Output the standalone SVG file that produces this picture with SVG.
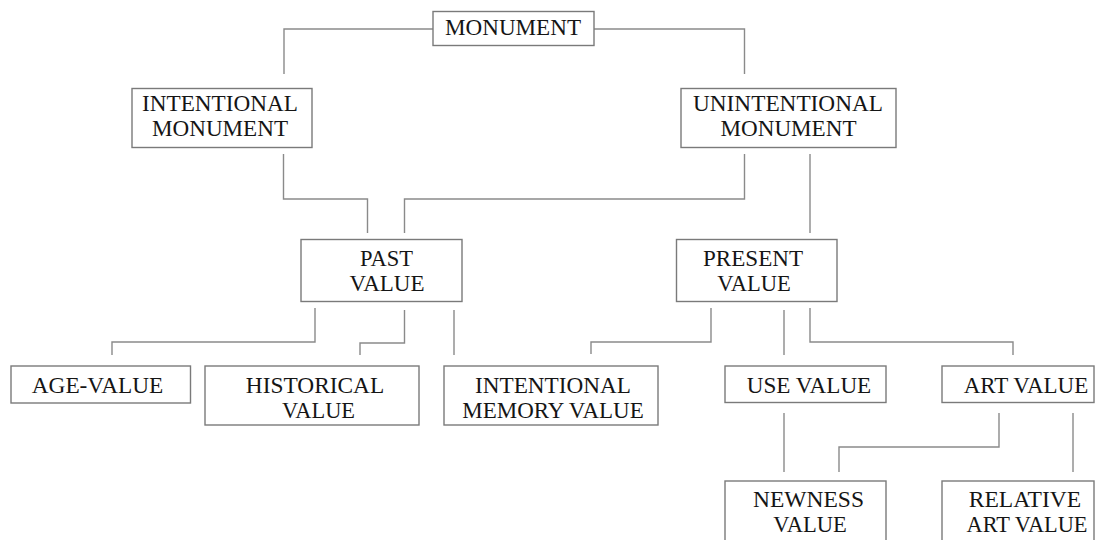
<svg xmlns="http://www.w3.org/2000/svg" width="1096" height="540" viewBox="0 0 1096 540">
<style>
.box{fill:#fff;stroke:#7a7a7a;stroke-width:1.4}
.t{font-family:"Liberation Serif","Times New Roman",serif;font-size:23.5px;fill:#151515;text-anchor:middle}
.c{fill:none;stroke:#8a8a8a;stroke-width:1.4}
</style>
<rect width="1096" height="540" fill="#fff"/>
<g id="connectors" class="c">
<path d="M433,29 H284 V74"/>
<path d="M594,29 H744.5 V74"/>
<path d="M283.5,154 V199 H367.5 V233"/>
<path d="M744.5,154 V199 H404.5 V233"/>
<path d="M810,154 V233"/>
<path d="M315,308 V342 H112 V355"/>
<path d="M404.5,310 V343 H360 V355"/>
<path d="M454,310 V355"/>
<path d="M711,308 V342 H591 V354"/>
<path d="M784,310 V355"/>
<path d="M810,308 V342 H1013 V355"/>
<path d="M784,413 V472"/>
<path d="M999,413 V447 H839 V472"/>
<path d="M1073,413 V472"/>
</g>
<g id="monument"><rect class="box" x="433" y="11.5" width="161" height="34"/><text class="t" x="513" y="35" textLength="136" lengthAdjust="spacingAndGlyphs">MONUMENT</text></g>
<g id="intentional-monument"><rect class="box" x="132" y="88.5" width="180" height="59"/><text class="t" x="220" y="110.5" textLength="156" lengthAdjust="spacingAndGlyphs">INTENTIONAL</text><text class="t" x="220" y="136" textLength="136" lengthAdjust="spacingAndGlyphs">MONUMENT</text></g>
<g id="unintentional-monument"><rect class="box" x="681" y="88.5" width="215" height="59"/><text class="t" x="788" y="110.5" textLength="190" lengthAdjust="spacingAndGlyphs">UNINTENTIONAL</text><text class="t" x="788.5" y="136" textLength="136" lengthAdjust="spacingAndGlyphs">MONUMENT</text></g>
<g id="past-value"><rect class="box" x="301" y="239.5" width="161" height="62"/><text class="t" x="386.5" y="265.5" textLength="53" lengthAdjust="spacingAndGlyphs">PAST</text><text class="t" x="387" y="291" textLength="75" lengthAdjust="spacingAndGlyphs">VALUE</text></g>
<g id="present-value"><rect class="box" x="676.5" y="239.5" width="160.5" height="62"/><text class="t" x="753" y="265.5" textLength="100" lengthAdjust="spacingAndGlyphs">PRESENT</text><text class="t" x="754" y="291" textLength="73.5" lengthAdjust="spacingAndGlyphs">VALUE</text></g>
<g id="age-value"><rect class="box" x="11" y="366" width="179.5" height="37"/><text class="t" x="97.5" y="392.5" textLength="131.5" lengthAdjust="spacingAndGlyphs">AGE-VALUE</text></g>
<g id="historical-value"><rect class="box" x="205" y="366" width="214" height="59"/><text class="t" x="315" y="392.5" textLength="138.5" lengthAdjust="spacingAndGlyphs">HISTORICAL</text><text class="t" x="318.5" y="418" textLength="73" lengthAdjust="spacingAndGlyphs">VALUE</text></g>
<g id="intentional-memory-value"><rect class="box" x="444" y="366" width="214" height="59"/><text class="t" x="553" y="392.5" textLength="156" lengthAdjust="spacingAndGlyphs">INTENTIONAL</text><text class="t" x="553" y="418" textLength="181.5" lengthAdjust="spacingAndGlyphs">MEMORY VALUE</text></g>
<g id="use-value"><rect class="box" x="725" y="366" width="161" height="36.5"/><text class="t" x="809" y="392.5" textLength="124.5" lengthAdjust="spacingAndGlyphs">USE VALUE</text></g>
<g id="art-value"><rect class="box" x="942" y="366" width="152" height="36.5"/><text class="t" x="1026" y="392.5" textLength="124.5" lengthAdjust="spacingAndGlyphs">ART VALUE</text></g>
<g id="newness-value"><rect class="box" x="725" y="481" width="161" height="70"/><text class="t" x="808.5" y="507" textLength="111" lengthAdjust="spacingAndGlyphs">NEWNESS</text><text class="t" x="810" y="532" textLength="73.5" lengthAdjust="spacingAndGlyphs">VALUE</text></g>
<g id="relative-art-value"><rect class="box" x="942" y="481" width="152" height="70"/><text class="t" x="1025" y="507" textLength="112.5" lengthAdjust="spacingAndGlyphs">RELATIVE</text><text class="t" x="1027" y="532" textLength="121" lengthAdjust="spacingAndGlyphs">ART VALUE</text></g>
</svg>
